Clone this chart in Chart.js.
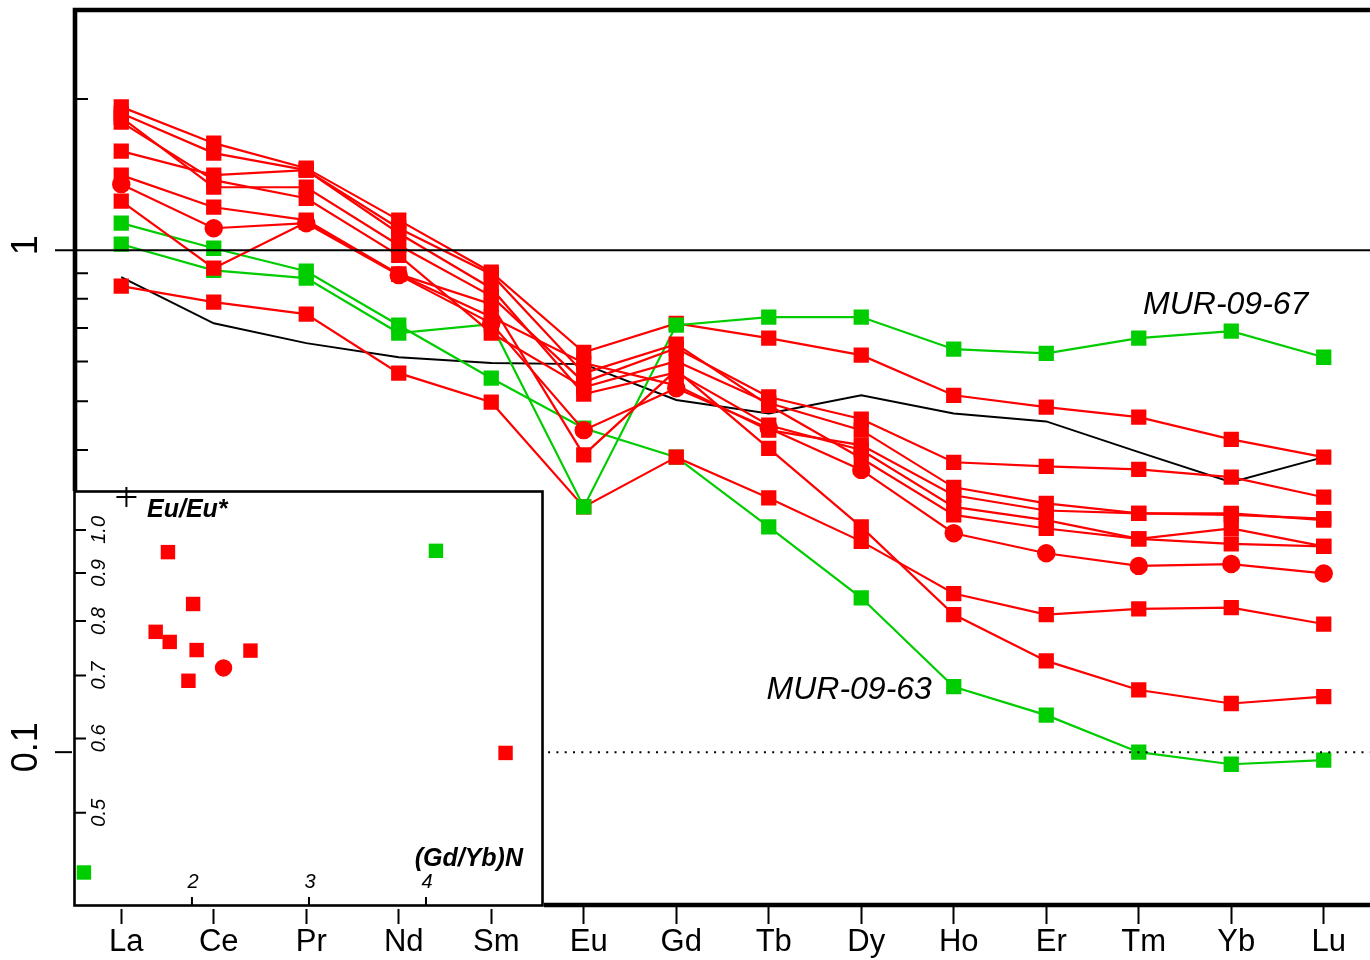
<!DOCTYPE html>
<html>
<head>
<meta charset="utf-8">
<script src="https://cdn.jsdelivr.net/npm/chart.js@4.4.1/dist/chart.umd.min.js"></script>
<style>
  html, body { margin: 0; padding: 0; background: #fff; }
  #wrap { position: relative; width: 1370px; height: 960px; }
  #ree { position: absolute; left: 0; top: 0; }
  #inset { position: absolute; left: 72px; top: 486px; }
</style>
</head>
<body>
<div id="wrap">
  <canvas id="ree" width="1370" height="960"></canvas>
  <canvas id="inset" width="472" height="423"></canvas>
</div>
<script>
const FONT = "'Liberation Sans', Arial, Helvetica, sans-serif";
const RED = '#ff0000';
const GREEN = '#00cd00';

// REE, chondrite normalised
const elements = ['La', 'Ce', 'Pr', 'Nd', 'Sm', 'Eu', 'Gd', 'Tb', 'Dy', 'Ho', 'Er', 'Tm', 'Yb', 'Lu'];

const redCircle = [1.354, 1.106, 1.132, 0.892, 0.715, 0.438, 0.531, 0.442, 0.365, 0.273, 0.249, 0.235, 0.237, 0.227];
const redA = [1.93, 1.634, 1.457, 1.148, 0.904, 0.626, 0.715, 0.668, 0.618, 0.514, 0.487, 0.465, 0.420, 0.387];
const redB = [1.84, 1.335, 1.335, 1.023, 0.810, 0.546, 0.638, 0.510, 0.461, 0.378, 0.371, 0.366, 0.353, 0.322];
const redC = [1.80, 1.379, 1.269, 0.977, 0.684, 0.533, 0.601, 0.496, 0.438, 0.337, 0.313, 0.299, 0.299, 0.290];
const redD = [1.411, 1.218, 1.148, 0.896, 0.736, 0.596, 0.538, 0.438, 0.409, 0.325, 0.303, 0.299, 0.297, 0.292];
const redE = [1.575, 1.411, 1.444, 1.081, 0.840, 0.517, 0.571, 0.448, 0.400, 0.308, 0.290, 0.266, 0.279, 0.257];
const redF = [1.875, 1.561, 1.444, 1.106, 0.896, 0.569, 0.650, 0.491, 0.385, 0.297, 0.279, 0.266, 0.260, 0.257];
const redG = [0.848, 0.788, 0.746, 0.569, 0.498, 0.308, 0.387, 0.321, 0.263, 0.207, 0.188, 0.193, 0.194, 0.180];
const redH = [1.252, 0.921, 1.137, 0.896, 0.781, 0.391, 0.577, 0.403, 0.281, 0.188, 0.152, 0.133, 0.125, 0.129];
const mur0967 = [1.028, 0.912, 0.880, 0.684, 0.712, 0.308, 0.709, 0.736, 0.736, 0.635, 0.623, 0.668, 0.690, 0.612];
const mur0963 = [1.132, 1.009, 0.908, 0.709, 0.556, 0.442, 0.387, 0.281, 0.203, 0.135, 0.1185, 0.100, 0.0946, 0.0964];
const reference = [0.884, 0.715, 0.653, 0.612, 0.596, 0.593, 0.503, 0.473, 0.514, 0.473, 0.456, 0.396, 0.345, 0.387];

const yLabelTicks = [1, 0.1];
const yMinorTicks = [2, 0.9, 0.8, 0.7, 0.6, 0.5, 0.4, 0.3, 0.2];

// inset: Eu/Eu* vs (Gd/Yb)N
const insetRedGdYb = [1.795, 2.01, 1.69, 1.81, 2.04, 2.50, 1.97, 4.68];
const insetRedEu = [0.947, 0.834, 0.779, 0.760, 0.745, 0.744, 0.691, 0.579];
const insetCircleGdYb = [2.27];
const insetCircleEu = [0.713];
const insetGreenGdYb = [4.085, 1.077];
const insetGreenEu = [0.95, 0.432];
const insetRefGdYb = [1.44];
const insetRefEu = [1.084];
const insetXTicks = [2, 3, 4];
const insetYTicks = [0.5, 0.6, 0.7, 0.8, 0.9, 1.0];

// sample names placed next to their curves
const sampleLabels = [
  { text: 'MUR-09-67', x: 11.94, y: 0.746 },
  { text: 'MUR-09-63', x: 7.87, y: 0.1274 }
];

function sampleSet(data, color, style) {
  return {
    data: data,
    borderColor: color,
    backgroundColor: color,
    borderWidth: 2.2,
    tension: 0,
    fill: false,
    pointStyle: style,
    pointRadius: style === 'circle' ? 9.2 : 10.8,
    pointHoverRadius: style === 'circle' ? 9.2 : 10.8,
    pointBorderWidth: 0,
    pointBackgroundColor: color
  };
}

const frame = {
  id: 'frame',
  afterDraw(chart) {
    const { ctx, chartArea: a, scales: { x, y } } = chart;
    ctx.save();
    ctx.strokeStyle = '#000';
    ctx.lineWidth = 2;

    // line at 1, running out through the axis as its tick
    const y1 = y.getPixelForValue(1);
    ctx.beginPath();
    ctx.moveTo(55, y1);
    ctx.lineTo(a.right, y1);
    ctx.stroke();

    // dotted line at 0.1
    const y01 = y.getPixelForValue(0.1);
    ctx.setLineDash([2, 6.3]);
    ctx.beginPath();
    ctx.moveTo(a.left, y01);
    ctx.lineTo(a.right, y01);
    ctx.stroke();
    ctx.setLineDash([]);
    ctx.beginPath();
    ctx.moveTo(55, y01);
    ctx.lineTo(a.left, y01);
    ctx.stroke();

    // minor ticks, pointing inward
    ctx.beginPath();
    yMinorTicks.forEach(v => {
      const p = y.getPixelForValue(v);
      ctx.moveTo(a.left, p);
      ctx.lineTo(a.left + 13, p);
    });
    ctx.stroke();

    // heavy frame: top, left, bottom
    ctx.lineWidth = 4.6;
    ctx.lineJoin = 'miter';
    ctx.beginPath();
    ctx.moveTo(a.right + 5, a.top);
    ctx.lineTo(a.left, a.top);
    ctx.lineTo(a.left, a.bottom);
    ctx.lineTo(a.right + 5, a.bottom);
    ctx.stroke();

    // rotated y labels
    ctx.fillStyle = '#000';
    ctx.font = '36px ' + FONT;
    ctx.textAlign = 'center';
    ctx.textBaseline = 'alphabetic';
    yLabelTicks.forEach(v => {
      const p = y.getPixelForValue(v);
      ctx.save();
      ctx.translate(37, p - 5);
      ctx.rotate(-Math.PI / 2);
      ctx.fillText(String(v), 0, 0);
      ctx.restore();
    });

    // sample names
    ctx.font = 'italic 32px ' + FONT;
    sampleLabels.forEach(l => {
      ctx.fillText(l.text, x.getPixelForValue(l.x), y.getPixelForValue(l.y));
    });
    ctx.restore();
  }
};

new Chart(document.getElementById('ree'), {
  type: 'line',
  data: {
    labels: elements,
    datasets: [
      sampleSet(redCircle, RED, 'circle'),
      sampleSet(redH, RED, 'rect'),
      sampleSet(redB, RED, 'rect'),
      sampleSet(redC, RED, 'rect'),
      sampleSet(redD, RED, 'rect'),
      sampleSet(redE, RED, 'rect'),
      sampleSet(redF, RED, 'rect'),
      sampleSet(mur0967, GREEN, 'rect'),
      sampleSet(redA, RED, 'rect'),
      sampleSet(redG, RED, 'rect'),
      sampleSet(mur0963, GREEN, 'rect'),
      {
        data: reference,
        borderColor: '#000',
        borderWidth: 2,
        tension: 0,
        fill: false,
        pointRadius: 0,
        pointHoverRadius: 0
      }
    ]
  },
  options: {
    responsive: false,
    animation: false,
    devicePixelRatio: 1,
    events: [],
    layout: { autoPadding: false, padding: { left: 75, top: 10, right: 0, bottom: 0 } },
    plugins: {
      legend: { display: false },
      tooltip: { enabled: false }
    },
    scales: {
      x: {
        type: 'category',
        offset: true,
        grid: {
          display: true,
          offset: false,
          drawOnChartArea: false,
          drawTicks: true,
          tickLength: 19,
          tickWidth: 2,
          tickColor: '#000'
        },
        border: { display: false },
        ticks: {
          color: '#000',
          font: { family: FONT, size: 31 },
          padding: 0,
          labelOffset: 5,
          maxRotation: 0,
          autoSkip: false
        },
        afterFit(scale) { scale.height = 55; }
      },
      y: {
        type: 'logarithmic',
        min: 0.0496,
        max: 3.01,
        display: false
      }
    }
  },
  plugins: [frame]
});

// ---------- inset ----------
const insetFrame = {
  id: 'insetFrame',
  beforeDatasetsDraw(chart) {
    const { ctx, chartArea: a, scales: { x, y } } = chart;
    ctx.save();
    ctx.fillStyle = '#fff';
    ctx.fillRect(0, a.top, chart.width, chart.height - a.top);

    ctx.strokeStyle = '#000';
    ctx.lineWidth = 2.6;
    ctx.strokeRect(2.5, a.top + 0.5, 468, 414);

    ctx.lineWidth = 2;
    ctx.beginPath();
    insetYTicks.forEach(v => {
      const p = y.getPixelForValue(v);
      ctx.moveTo(3, p);
      ctx.lineTo(14, p);
    });
    insetXTicks.forEach(v => {
      const p = x.getPixelForValue(v);
      ctx.moveTo(p, 420);
      ctx.lineTo(p, 411);
    });
    ctx.stroke();

    ctx.fillStyle = '#000';
    ctx.font = 'italic 20px ' + FONT;
    ctx.textAlign = 'center';
    ctx.textBaseline = 'alphabetic';
    insetYTicks.forEach(v => {
      const p = y.getPixelForValue(v);
      ctx.save();
      ctx.translate(33, p);
      ctx.rotate(-Math.PI / 2);
      ctx.fillText(v.toFixed(1), 0, 0);
      ctx.restore();
    });
    insetXTicks.forEach(v => {
      ctx.fillText(String(v), x.getPixelForValue(v) + 1, 402);
    });

    ctx.font = 'bold italic 25px ' + FONT;
    ctx.textAlign = 'left';
    ctx.fillText('Eu/Eu*', 75, 31);
    ctx.textAlign = 'right';
    ctx.fillText('(Gd/Yb)N', 451, 380);
    ctx.restore();
  }
};

function points(xs, ys) {
  return xs.map((v, i) => ({ x: v, y: ys[i] }));
}

function insetSet(xs, ys, color, style, radius) {
  return {
    data: points(xs, ys),
    showLine: false,
    clip: false,
    pointStyle: style,
    pointRadius: radius,
    pointHoverRadius: radius,
    pointBackgroundColor: color,
    pointBorderColor: color,
    pointBorderWidth: style === 'cross' ? 2 : 0
  };
}

new Chart(document.getElementById('inset'), {
  type: 'scatter',
  data: {
    datasets: [
      insetSet(insetRefGdYb, insetRefEu, '#000', 'cross', 10),
      insetSet(insetCircleGdYb, insetCircleEu, RED, 'circle', 8.7),
      insetSet(insetRedGdYb, insetRedEu, RED, 'rect', 10.2),
      insetSet(insetGreenGdYb, insetGreenEu, GREEN, 'rect', 10.2)
    ]
  },
  options: {
    responsive: false,
    animation: false,
    devicePixelRatio: 1,
    events: [],
    layout: { autoPadding: false, padding: { left: 0, right: 0, top: 5, bottom: 1 } },
    plugins: {
      legend: { display: false },
      tooltip: { enabled: false }
    },
    scales: {
      x: { type: 'linear', min: 0.975, max: 5.0085, display: false },
      y: { type: 'logarithmic', min: 0.396, max: 1.1, display: false }
    }
  },
  plugins: [insetFrame]
});
</script>
</body>
</html>
